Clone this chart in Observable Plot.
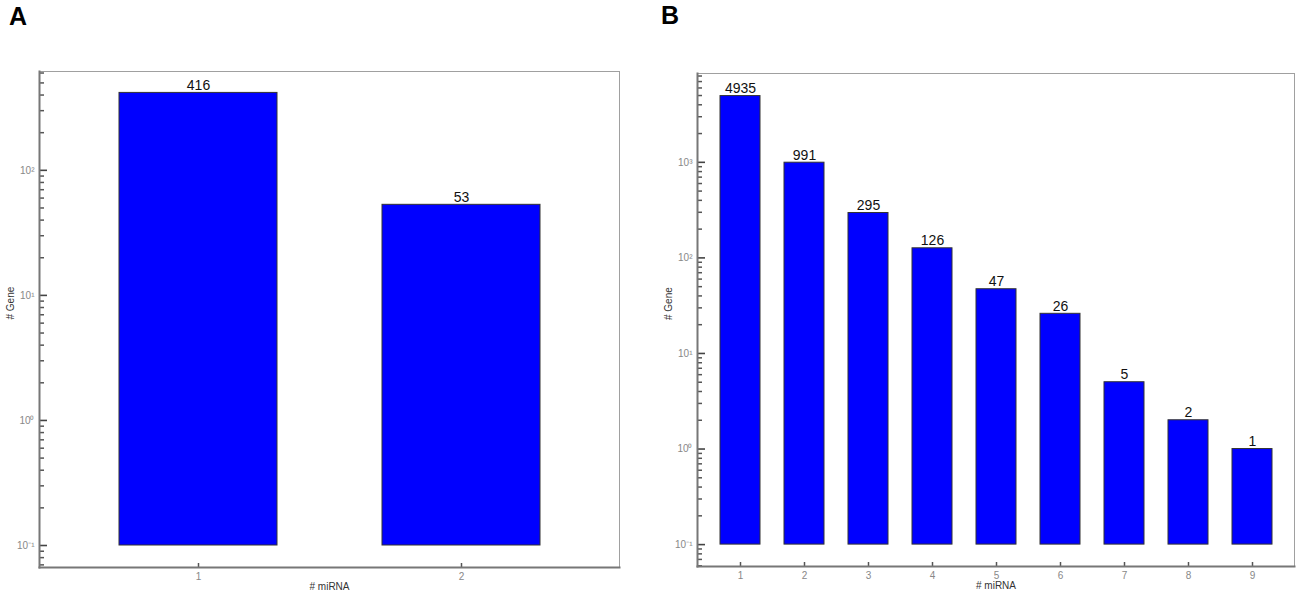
<!DOCTYPE html>
<html><head><meta charset="utf-8">
<script src="https://cdn.jsdelivr.net/npm/d3@7"></script>
<script src="https://cdn.jsdelivr.net/npm/@observablehq/plot@0.6"></script>
<style>
body{margin:0;background:#fff;font-family:"Liberation Sans",Arial,sans-serif;}
#wrap{position:relative;width:1299px;height:599px;overflow:hidden;background:#fff}
.panel{position:absolute;top:0}
.tag{position:absolute;font:bold 25px "Liberation Sans",Arial,sans-serif;color:#000;line-height:1}
</style></head><body>
<div id="wrap">
<div id="pa" class="panel" style="left:0px"></div>
<div id="pb" class="panel" style="left:650px"></div>
<div class="tag" style="left:9px;top:4px">A</div>
<div class="tag" style="left:661px;top:3px">B</div>
</div>
<script>
// ---- data ----
const categoriesA = [1, 2];
const genesA = [416, 53];
const categoriesB = [1, 2, 3, 4, 5, 6, 7, 8, 9];
const genesB = [4935, 991, 295, 126, 47, 26, 5, 2, 1];
const barBase = 0.1;
const majorTicksA = [0.1, 1, 10, 100];
const majorTicksB = [0.1, 1, 10, 100, 1000];
const tickLabels = {"-1": "10⁻¹", "0": "10⁰", "1": "10¹", "2": "10²", "3": "10³"};
const xTitle = "# miRNA";
const yTitle = "# Gene";

function minorTicks(domain) {
  const out = [];
  for (let e = -3; e <= 4; e++) {
    for (let m = 2; m <= 9; m++) {
      const v = m * Math.pow(10, e);
      if (v >= domain[0] && v <= domain[1]) out.push(v);
    }
  }
  return out;
}

function panel({cats, vals, majors, yDomain, width, margins, pad, padOuter}) {
  const height = 599;
  const data = cats.map((k, i) => ({k, v: vals[i]}));
  const minors = minorTicks(yDomain);
  const fw = width - margins[0] - margins[1];
  const fh = height - margins[2] - margins[3];
  return Plot.plot({
    width, height,
    marginLeft: margins[0], marginRight: margins[1], marginTop: margins[2], marginBottom: margins[3],
    style: {fontFamily: "'Liberation Sans', Arial, sans-serif", background: "#fff"},
    x: {type: "band", domain: cats, paddingInner: pad, paddingOuter: padOuter, label: null, axis: null},
    y: {type: "log", domain: yDomain, label: null, axis: null},
    marks: [
      Plot.frame({stroke: "#a0a0a0", strokeWidth: 1}),
      Plot.barY(data, {x: "k", y1: barBase, y2: "v", fill: "#0000ff", stroke: "#333", strokeWidth: 1}),
      Plot.text(data, {x: "k", y: "v", text: d => String(d.v), lineAnchor: "bottom", dy: -3, fontSize: 14, fill: "#111"}),
      // y ticks (inward)
      Plot.tickY(minors, {y: d => d, insetRight: fw - 5, stroke: "#555", strokeWidth: 1.5}),
      Plot.tickY(majors, {y: d => d, insetRight: fw - 8, stroke: "#444", strokeWidth: 1.6}),
      Plot.axisY(majors, {tickSize: 0, tickPadding: 5, fontSize: 10, fill: "#888", label: null,
        tickFormat: d => tickLabels[String(Math.round(Math.log10(d)))]}),
      // x ticks (inward)
      Plot.tickX(cats, {x: d => d, insetTop: fh - 4, stroke: "#555", strokeWidth: 1.5}),
      Plot.axisX({tickSize: 0, tickPadding: 5, fontSize: 10, fill: "#888", label: null}),
      Plot.frame({anchor: "left", stroke: "#777", strokeWidth: 2}),
      Plot.frame({anchor: "bottom", stroke: "#777", strokeWidth: 2}),
      Plot.text([yTitle], {text: d => d, frameAnchor: "left", rotate: -90, dx: -29, fontSize: 10, fill: "#333"}),
      Plot.text([xTitle], {text: d => d, frameAnchor: "bottom", dy: 22, fontSize: 10, fill: "#333"})
    ]
  });
}

document.getElementById("pa").append(panel({
  cats: categoriesA, vals: genesA, majors: majorTicksA, yDomain: [0.0667, 617],
  width: 640, margins: [39, 21, 71, 32], pad: 0.4, padOuter: 0.3
}));
document.getElementById("pb").append(panel({
  cats: categoriesB, vals: genesB, majors: majorTicksB, yDomain: [0.059, 8500],
  width: 649, margins: [47, 5, 73, 33], pad: 0.38, padOuter: 0.3
}));
</script>
</body></html>
